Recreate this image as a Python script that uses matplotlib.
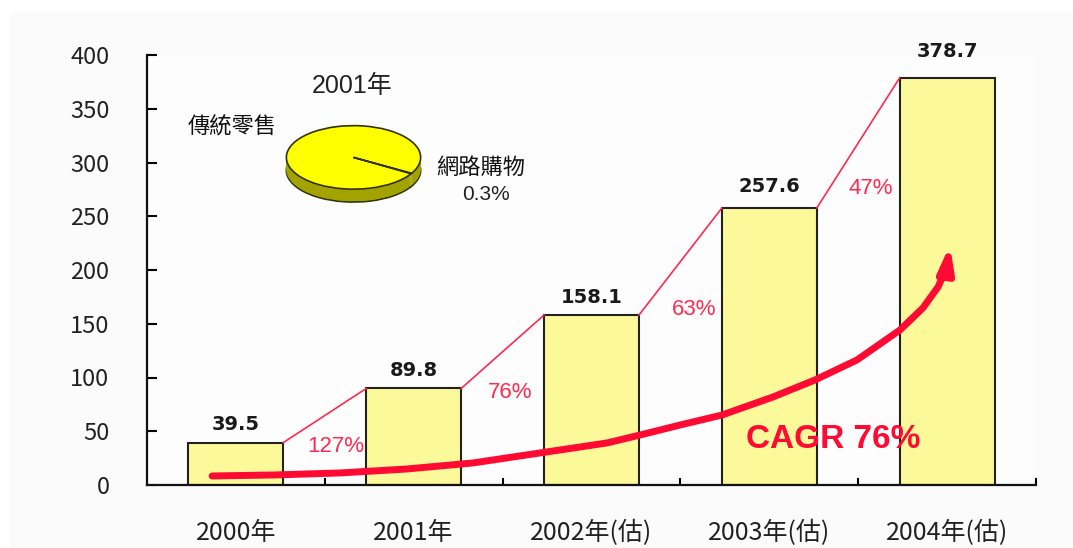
import matplotlib
matplotlib.use('Agg')
import matplotlib.pyplot as plt
from matplotlib.patches import Rectangle, FancyArrowPatch
from matplotlib.path import Path
import numpy as np

# ---------------- data ----------------
categories = ['2000年', '2001年', '2002年(估)', '2003年(估)', '2004年(估)']
values = [39.5, 89.8, 158.1, 257.6, 378.7]
value_labels = ['39.5', '89.8', '158.1', '257.6', '378.7']
growth_labels = ['127%', '76%', '63%', '47%']
growth_label_x = [0.56, 1.54, 2.58, 3.57]
growth_label_y = [35.5, 85.6, 162.8, 276.0]
yticks = [0, 50, 100, 150, 200, 250, 300, 350, 400]

pie_title = '2001年'
pie_labels = ['網路購物', '傳統零售']
pie_shares = [0.3, 99.7]
pie_share_text = '0.3%'

cagr_text = 'CAGR 76%'
cagr_x = [-0.134, 0.209, 0.585, 0.962, 1.333, 1.710, 2.087, 2.273, 2.498, 2.734,
          3.021, 3.257, 3.493, 3.735, 3.864, 3.949, 3.999, 4.016]
cagr_y = [8.4, 9.3, 11.2, 14.9, 20.5, 29.8, 39.1, 46.5, 55.8, 65.1,
          81.9, 97.7, 116.3, 144.2, 164.7, 184.2, 202.8, 223.3]

# ---------------- figure ----------------
W, H = 1073, 548
fig = plt.figure(figsize=(W / 100, H / 100), dpi=100)
fig.patch.set_facecolor('white')
fig.add_artist(Rectangle((10 / W, 0), 1, (H - 12) / H, transform=fig.transFigure,
                         facecolor='#FBFBFB', edgecolor='none', zorder=-10))


def fx(px):
    return px / W


def fy(py):
    return 1 - py / H


ax = fig.add_axes([fx(147), fy(485), fx(1036) - fx(147), fy(55) - fy(485)])
ax.set_facecolor('#FDFDFD')

cjk = ['Noto Sans CJK TC', 'DejaVu Sans']
arial_cjk = ['Liberation Sans', 'Noto Sans CJK TC', 'DejaVu Sans']

x = np.arange(len(categories))
bar_w = 0.534
ax.bar(x, values, width=bar_w, color='#FCF99B', edgecolor='#222222', linewidth=1.5, zorder=2)

# growth connector lines
line_red = '#FF2A4F'
for i in range(len(values) - 1):
    ax.plot([x[i] + bar_w / 2, x[i + 1] - bar_w / 2], [values[i], values[i + 1]],
            color=line_red, lw=1.2, zorder=3, clip_on=False)
for lbl, gx, gy in zip(growth_labels, growth_label_x, growth_label_y):
    ax.text(gx, gy, lbl, color=line_red, fontsize=16, family=arial_cjk,
            ha='center', va='center', zorder=4)

# value labels
label_pad = [6, 6, 6, 9, 12]
for xi, v, t, p in zip(x, values, value_labels, label_pad):
    ax.annotate(t, (xi, v), xytext=(0, p), textcoords='offset points',
                ha='center', va='bottom', fontsize=14, fontweight='bold',
                color='#1A1A1A', family='DejaVu Sans', annotation_clip=False)

# CAGR arrow
arrow_path = Path(np.column_stack([cagr_x, cagr_y]))
arr = FancyArrowPatch(path=arrow_path, arrowstyle='-|>,head_length=1.5,head_width=0.45',
                      mutation_scale=10, lw=5, color='#FF0A32', zorder=5,
                      capstyle='round', joinstyle='round')
ax.add_patch(arr)
ax.text(3.36, 41.9, cagr_text, color='#FF0A32', fontsize=24, fontweight='bold',
        family=arial_cjk, ha='center', va='center', zorder=6)

# axes styling
ax.set_xlim(-0.5, 4.5)
ax.set_ylim(0, 400)
for s in ['top', 'right']:
    ax.spines[s].set_visible(False)
for s in ['left', 'bottom']:
    ax.spines[s].set_linewidth(1.6)
    ax.spines[s].set_color('#111111')

ax.set_yticks(yticks)
ax.set_yticklabels([str(t) for t in yticks], family=cjk, fontsize=17, color='#222222')
ax.tick_params(axis='y', direction='in', length=7.5, width=1.5, pad=27)

ax.set_xticks(x)
ax.set_xticklabels(categories, family=cjk, fontsize=18, color='#222222')
ax.tick_params(axis='x', which='major', length=0, pad=25)
ax.set_xticks(np.arange(0.5, 5.0, 1.0), minor=True)
ax.tick_params(axis='x', which='minor', direction='in', length=5, width=1.5)

# ---------------- pie inset ----------------
depth = 0.406
pax = fig.add_axes([fx(285), fy(203), fx(422) - fx(285), fy(125) - fy(203)])
pax.axis('off')
side_cols = ['#D8D8D8', '#A3A300']
top_cols = ['#EDEDED', '#FFFF00']
layers = np.linspace(-depth, 0, 14)
for k, dy in enumerate(layers):
    ec = '#333300' if k == 0 else 'none'
    pax.pie(pie_shares, colors=side_cols, startangle=-31, center=(0, dy), radius=1,
            wedgeprops=dict(edgecolor=ec, linewidth=1.2 if k == 0 else 0))
pax.pie(pie_shares, colors=top_cols, startangle=-31, center=(0, 0), radius=1,
        wedgeprops=dict(edgecolor='#333300', linewidth=1.2))
pax.set_aspect('auto')
pax.set_xlim(-1.02, 1.02)
pax.set_ylim(-1 - depth - 0.03, 1.02)

fig.text(fx(352), fy(86), pie_title, fontsize=18, family=arial_cjk, color='#222222',
         ha='center', va='center')
fig.text(fx(232), fy(127), pie_labels[1], fontsize=16, family=cjk, color='#111111',
         ha='center', va='center')
fig.text(fx(481), fy(167), pie_labels[0], fontsize=16, family=cjk, color='#111111',
         ha='center', va='center')
fig.text(fx(486), fy(195), pie_share_text, fontsize=15, family=arial_cjk, color='#222222',
         ha='center', va='center')

fig.savefig('out.png', dpi=100)
